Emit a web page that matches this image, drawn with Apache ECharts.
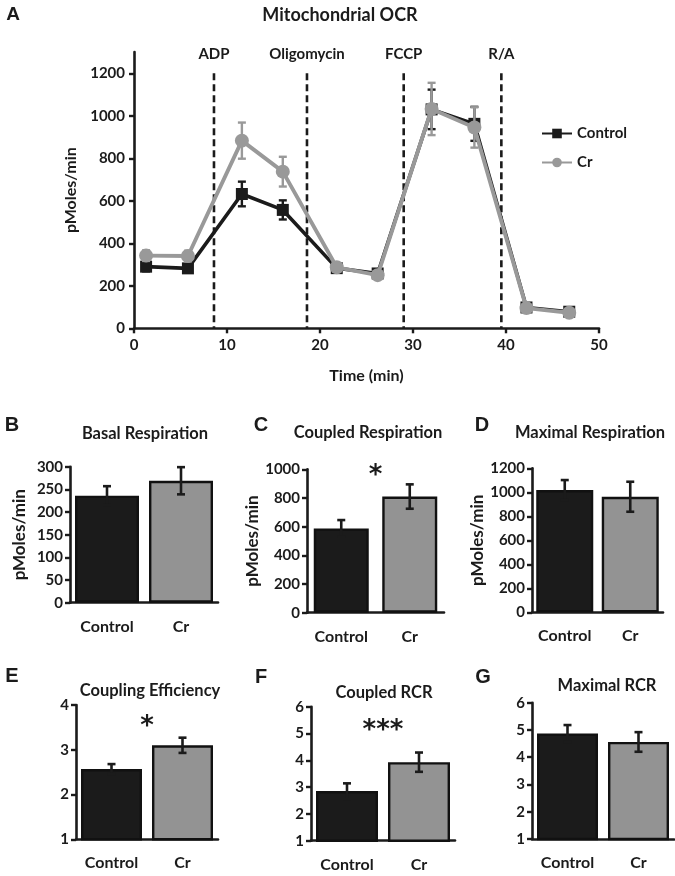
<!DOCTYPE html>
<html><head><meta charset="utf-8">
<script src="https://cdn.jsdelivr.net/npm/echarts@6/dist/echarts.min.js"></script>
<style>html,body{margin:0;padding:0;background:#fff}#c{width:675px;height:876px}</style>
</head><body><div id="c"></div><script>
// ---------- data ----------
const timeMin = [1.3, 5.8, 11.6, 16.0, 21.8, 26.2, 32.0, 36.6, 42.2, 46.8];
const controlOCR = [290, 282, 632, 557, 283, 258, 1030, 962, 98, 78];
const controlErr = [22, 20, 58, 45, 15, 12, 93, 80, 10, 8];
const crOCR = [342, 340, 883, 737, 287, 250, 1032, 945, 95, 73];
const crErr = [25, 25, 85, 70, 15, 12, 123, 95, 10, 8];
const injectionTimes = [8.6, 18.6, 29.0, 39.5];
const injectionLabels = ['ADP', 'Oligomycin', 'FCCP', 'R/A'];
const ocrYTicks = [0, 200, 400, 600, 800, 1000, 1200];

const groups = ['Control', 'Cr'];
const basalMean = [236, 269];        const basalErr = [21, 30];
const coupledMean = [588, 810];      const coupledErr = [58, 85];
const maximalMean = [1019, 963];     const maximalErr = [83, 125];
const couplingEffMean = [2.57, 3.10]; const couplingEffErr = [0.11, 0.17];
const coupledRCRMean = [2.85, 3.93]; const coupledRCRErr = [0.29, 0.36];
const maximalRCRMean = [4.87, 4.56]; const maximalRCRErr = [0.31, 0.36];
const sigC = ['*', 955];
const sigE = ['*', 3.5];
const sigF = ['***', 5.08];

// ---------- style ----------
const FONT = 'Lato';
const BLK = '#1b1b1b';
const GRY = '#999999';
const BARGRY = '#939393';
const axisLineStyle = {color: BLK, width: 2.6};
const plain = v => String(v);

const chart = echarts.init(document.getElementById('c'));

const panels = [
  {title:'Basal Respiration', mean: basalMean, err: basalErr, min:0, max:300, interval:50,
   grid:{left:70, top:466.7, width:148, height:136}, name:true, nameGap:42, barWidth:64},
  {title:'Coupled Respiration', mean: coupledMean, err: coupledErr, min:0, max:1000, interval:200,
   grid:{left:307, top:469.3, width:137, height:143.4}, name:true, nameGap:39, barWidth:55, sig:sigC},
  {title:'Maximal Respiration', mean: maximalMean, err: maximalErr, min:0, max:1200, interval:200,
   grid:{left:532, top:468.3, width:131, height:144}, name:true, nameGap:46, barWidth:57},
  {title:'Coupling Efficiency', mean: couplingEffMean, err: couplingEffErr, min:1, max:4, interval:1,
   grid:{left:76, top:705, width:142, height:134.3}, barWidth:61, sig:sigE},
  {title:'Coupled RCR', mean: coupledRCRMean, err: coupledRCRErr, min:1, max:6, interval:1,
   grid:{left:311, top:706.7, width:144, height:134}, barWidth:62, sig:sigF},
  {title:'Maximal RCR', mean: maximalRCRMean, err: maximalRCRErr, min:1, max:6, interval:1,
   grid:{left:532, top:702.7, width:142, height:136.3}, barWidth:61}
];

const grids = [{left:134, top:52, width:465, height:276.3}];
const xAxes = [{
  type:'value', gridIndex:0, min:0, max:50, interval:10,
  axisLine:{lineStyle:axisLineStyle}, axisTick:{show:true, length:5, lineStyle:{color:BLK, width:2.4}},
  splitLine:{show:false},
  axisLabel:{color:BLK, fontFamily:FONT, fontWeight:'bold', fontSize:15, margin:9, formatter: plain},
  name:'Time (min)', nameLocation:'middle', nameGap:40,
  nameTextStyle:{color:BLK, fontFamily:FONT, fontWeight:'bold', fontSize:16}
}];
const yAxes = [{
  type:'value', gridIndex:0, min:0, max:1300, interval:200,
  axisLine:{show:true, lineStyle:axisLineStyle},
  axisTick:{show:true, length:5, customValues: ocrYTicks, lineStyle:{color:BLK, width:2.4}},
  splitLine:{show:false},
  axisLabel:{color:BLK, fontFamily:FONT, fontWeight:'bold', fontSize:15, margin:9, customValues: ocrYTicks, formatter: plain},
  name:'pMoles/min', nameLocation:'middle', nameGap:48, nameRotate:90,
  nameTextStyle:{color:BLK, fontFamily:FONT, fontWeight:'bold', fontSize:16}
}];

function errRender(color, capHalf, lw) {
  return function (params, api) {
    const x = api.value(0), m = api.value(1), e = api.value(2);
    const hi = api.coord([x, m + e]), lo = api.coord([x, m - e]);
    const style = {stroke: color, lineWidth: lw};
    return {type:'group', children:[
      {type:'line', shape:{x1:hi[0], y1:hi[1], x2:lo[0], y2:lo[1]}, style},
      {type:'line', shape:{x1:hi[0]-capHalf, y1:hi[1], x2:hi[0]+capHalf, y2:hi[1]}, style},
      {type:'line', shape:{x1:lo[0]-capHalf, y1:lo[1], x2:lo[0]+capHalf, y2:lo[1]}, style}
    ]};
  };
}

const series = [];
series.push({
  type:'custom', xAxisIndex:0, yAxisIndex:0, z:1, silent:true, clip:false,
  data: injectionTimes.map(t => [t, ocrYTicks[ocrYTicks.length-1]]),
  renderItem: function (params, api) {
    const top = api.coord([api.value(0), api.value(1)]);
    const bot = api.coord([api.value(0), 0]);
    return {type:'group', children:[
      {type:'line', shape:{x1:top[0], y1:top[1], x2:bot[0], y2:bot[1]},
       style:{stroke:BLK, lineWidth:2.6, lineDash:[7,4]}},
      {type:'text', x: top[0], y: top[1]-19,
       style:{text: injectionLabels[params.dataIndex], fill:BLK, font:'bold 15px ' + FONT,
              textAlign:'center', textVerticalAlign:'middle'}}
    ]};
  }
});
series.push({type:'custom', name:'ctlErr', xAxisIndex:0, yAxisIndex:0, z:2, silent:true,
  data: timeMin.map((t,i)=>[t, controlOCR[i], controlErr[i]]), renderItem: errRender(BLK, 4, 2.4)});
series.push({type:'line', name:'Control', xAxisIndex:0, yAxisIndex:0, z:3,
  data: timeMin.map((t,i)=>[t, controlOCR[i]]), symbol:'rect', symbolSize:12,
  lineStyle:{color:BLK, width:3.6}, itemStyle:{color:BLK}, emphasis:{disabled:true}});
series.push({type:'custom', name:'crErr', xAxisIndex:0, yAxisIndex:0, z:4, silent:true,
  data: timeMin.map((t,i)=>[t, crOCR[i], crErr[i]]), renderItem: errRender(GRY, 4, 2.4)});
series.push({type:'line', name:'Cr', xAxisIndex:0, yAxisIndex:0, z:5,
  data: timeMin.map((t,i)=>[t, crOCR[i]]), symbol:'circle', symbolSize:14,
  lineStyle:{color:GRY, width:3.9}, itemStyle:{color:GRY}, emphasis:{disabled:true}});

panels.forEach((p, k) => {
  const gi = k + 1;
  grids.push(p.grid);
  xAxes.push({
    type:'category', gridIndex:gi, data: groups,
    axisLine:{onZero:false, lineStyle:axisLineStyle}, axisTick:{show:false},
    axisLabel:{color:BLK, fontFamily:FONT, fontWeight:'bold', fontSize:16, margin:16, interval:0, hideOverlap:false}
  });
  const ya = {
    type:'value', gridIndex:gi, min:p.min, max:p.max, interval:p.interval,
    axisLine:{show:true, lineStyle:axisLineStyle},
    axisTick:{show:true, length:5, lineStyle:{color:BLK, width:2.4}},
    splitLine:{show:false},
    axisLabel:{color:BLK, fontFamily:FONT, fontWeight:'bold', fontSize:15, margin:7, formatter: plain}
  };
  if (p.name) Object.assign(ya, {name:'pMoles/min', nameLocation:'middle', nameGap:p.nameGap, nameRotate:90,
    nameTextStyle:{color:BLK, fontFamily:FONT, fontWeight:'bold', fontSize:17}});
  yAxes.push(ya);
  series.push({
    type:'bar', xAxisIndex:gi, yAxisIndex:gi, barWidth:p.barWidth, z:2,
    data: p.mean.map((v,i)=>({value:v, itemStyle:{color: i===0 ? BLK : BARGRY}})),
    itemStyle:{borderColor:'#111', borderWidth:2.4}, emphasis:{disabled:true}
  });
  series.push({type:'custom', xAxisIndex:gi, yAxisIndex:gi, z:4, silent:true,
    data: p.mean.map((v,i)=>[i, v, p.err[i]]), renderItem: errRender(BLK, 4, 2.6)});
  if (p.sig) {
    const sig = p.sig;
    series.push({type:'custom', xAxisIndex:gi, yAxisIndex:gi, z:5, silent:true, clip:false,
      data: [[0, sig[1]]],
      renderItem: function (params, api) {
        const a = api.coord([0, api.value(1)]), b = api.coord([1, api.value(1)]);
        return {type:'text', x:(a[0]+b[0])/2, y:a[1],
          style:{text:sig[0], fill:BLK, font:'bold 26px "DejaVu Sans"', textAlign:'center', textVerticalAlign:'middle'}};
      }});
  }
});

function txt(s, x, y, size, family, align) {
  return {type:'text', x:x, y:y, style:{text:s, fill:BLK, font:'bold ' + size + 'px ' + family,
    textAlign: align || 'center', textVerticalAlign:'middle'}};
}
const LETTER = '"Liberation Sans", Arial';
const graphics = [
  txt('A', 13, 15, 19, LETTER), txt('Mitochondrial OCR', 340, 15, 18, FONT),
  txt('B', 12, 425, 20, LETTER), txt('Basal Respiration', 145, 434, 16.5, FONT),
  txt('C', 261, 425, 20, LETTER), txt('Coupled Respiration', 368, 433, 16.5, FONT),
  txt('D', 482, 425, 20, LETTER), txt('Maximal Respiration', 590, 433, 16.5, FONT),
  txt('E', 12, 676, 20, LETTER), txt('Coupling Efficiency', 150, 691, 16.5, FONT),
  txt('F', 261, 677, 20, LETTER), txt('Coupled RCR', 384, 693, 16.5, FONT),
  txt('G', 483, 677, 20, LETTER), txt('Maximal RCR', 607, 686, 16.5, FONT)
];

chart.setOption({
  animation:false,
  backgroundColor:'#fff',
  grid: grids, xAxis: xAxes, yAxis: yAxes, series: series,
  legend: {data:['Control','Cr'], orient:'vertical', left:536, top:121, itemWidth:30, itemHeight:12, itemGap:14,
    textStyle:{color:BLK, fontFamily:FONT, fontWeight:'bold', fontSize:15}, selectedMode:false},
  graphic: graphics
});
</script></body></html>
